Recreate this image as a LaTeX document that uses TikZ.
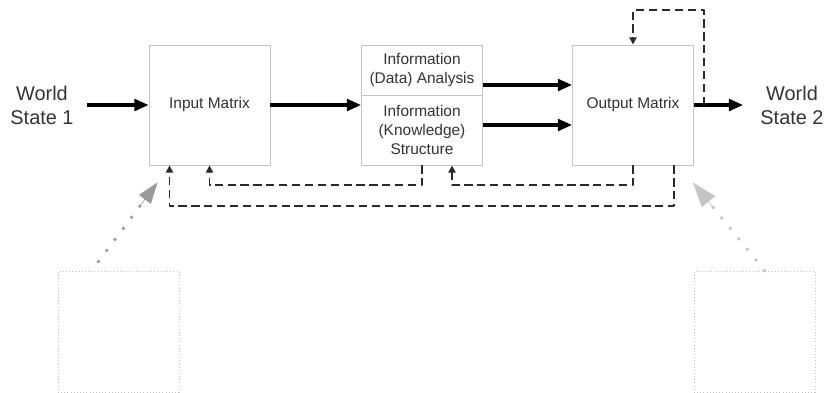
\documentclass[tikz,border=0pt]{standalone}
\usepackage{fontspec}
\setmainfont{Liberation Sans}
\usetikzlibrary{arrows.meta,calc}
\definecolor{boxgray}{HTML}{C4C4C4}
\definecolor{txtgray}{HTML}{333333}
\definecolor{fbgray}{HTML}{2A2A2A}
\definecolor{ghostA}{HTML}{9A9A9A}
\definecolor{ghostB}{HTML}{C4C4C4}
\begin{document}
\begin{tikzpicture}[x=0.03cm, y=-0.03cm, line join=round, >=Triangle,
	font=\fontsize{13.2}{16}\selectfont, text=txtgray,
	box/.style={draw=boxgray, line width=0.8pt, inner sep=0pt, align=center, minimum width=3.63cm},
	ghostbox/.style={draw=boxgray, dotted, line width=0.7pt, minimum width=3.63cm, minimum height=3.63cm},
	world/.style={align=center, font=\fontsize{17}{20.5}\selectfont},
	bigarrow/.style={line width=2.6pt, arrows={-Triangle[length=12pt, width=10pt]}},
	fb/.style={fbgray, line width=1.7pt, dash pattern=on 7pt off 4pt, arrows={-Triangle[length=6pt, width=6pt]}},
	ghosthead/.style={line width=0.4pt, arrows={-Triangle[length=#1, width=0.7*#1]}}]
	\useasboundingbox (0,0) rectangle (828,393);
	% boxes
	\node[box, minimum height=3.6cm] (input) at (209.5,105) {Input Matrix};
	\node[box, minimum height=1.5cm] (analysis) at (422,70) {Information\\(Data) Analysis};
	\node[box, minimum height=2.1cm] (struct) at (422,130) {Information\\(Knowledge)\\Structure};
	\node[box, minimum height=3.6cm] (output) at (633,105) {Output Matrix};
	\node[world] (ws1) at (42,105) {World\\State 1};
	\node[world] (ws2) at (792,105) {World\\State 2};
	\node[ghostbox] (lbox) at (118.5,331.5) {};
	\node[ghostbox] (rbox) at (754.5,331.5) {};
	\coordinate (ws1out) at (87,105);
	\coordinate (ws2in) at (743,105);
	\coordinate (tap) at (704,105);
	% main flow
	\draw[bigarrow] (ws1out) -- (input.west);
	\draw[bigarrow] (input.east) -- (input.east -| struct.west);
	\draw[bigarrow] (analysis.east |- 0,85) -- (output.west |- 0,85);
	\draw[bigarrow] (struct.east |- 0,125) -- (output.west |- 0,125);
	\draw[bigarrow] (output.east) -- (ws2in);
	% feedback
	\draw[fb] (tap) |- (output.north |- 0,10) -- (output.north);
	\draw[fb] (output.south) -- ++(0,20) -| ($(struct.south)+(30,0)$);
	\draw[fb] (struct.south) -- ++(0,20) -| (input.south);
	\draw[fb] ($(output.south)+(41,0)$) -- ++(0,41) -| ($(input.south)+(-40,0)$);
	% outside influences
	\coordinate (lfrom) at ($(lbox.north)+(-20,-9)$);
	\coordinate (lto) at ($(input.south)+(-52,17)$);
	\coordinate (rfrom) at ($(rbox.north)+(10,0)$);
	\coordinate (rto) at ($(output.south)+(60,17)$);
	\foreach \i in {0,...,5}
		\fill[ghostA] ($(lfrom)!\i*11.8pt!(lto)$) circle (1.6pt);
	\foreach \i in {0,...,6}
		\fill[ghostB] ($(rfrom)!\i*11.6pt!(rto)$) circle (1.6pt);
	\draw[ghostA, fill=ghostA, ghosthead=18pt] ($(lfrom)!0.7!(lto)$) -- (lto);
	\draw[ghostB, fill=ghostB, ghosthead=21pt] ($(rfrom)!0.7!(rto)$) -- (rto);
\end{tikzpicture}
\end{document}
